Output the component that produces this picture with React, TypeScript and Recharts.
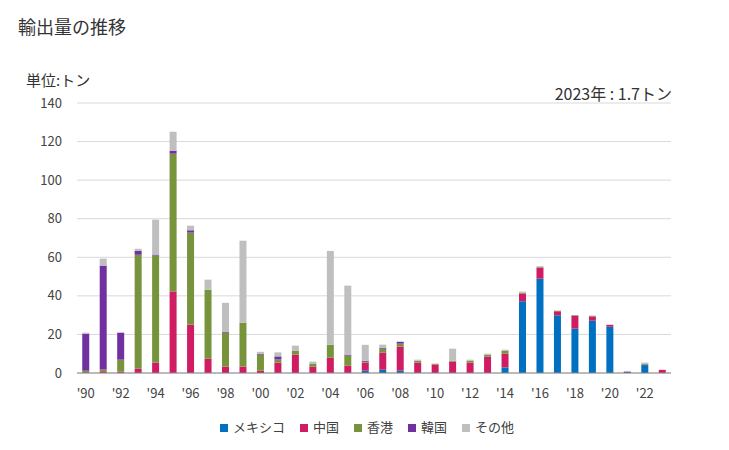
import { Bar, BarChart, CartesianGrid, Legend, XAxis, YAxis } from "recharts";

const years = [
  "1990", "1991", "1992", "1993", "1994", "1995", "1996", "1997", "1998", "1999",
  "2000", "2001", "2002", "2003", "2004", "2005", "2006", "2007", "2008", "2009",
  "2010", "2011", "2012", "2013", "2014", "2015", "2016", "2017", "2018", "2019",
  "2020", "2021", "2022", "2023",
];

const mexico = [
  0, 0, 0, 0, 0, 0, 0, 0, 0, 0,
  0, 0, 0, 0, 0, 0, 1.2, 1.7, 1.2, 0,
  0, 0, 0, 0, 2.9, 37.2, 48.9, 29.9, 23.0, 27.1,
  24.0, 0, 4.1, 0,
];
const china = [
  0, 0.9, 0.7, 2.2, 5.4, 42.3, 25.1, 7.4, 3.3, 3.3,
  1.2, 5.4, 9.5, 3.3, 7.9, 3.8, 4.1, 8.8, 12.4, 5.4,
  4.3, 5.9, 5.4, 8.5, 7.1, 4.0, 5.7, 2.1, 6.7, 2.1,
  1.0, 0, 0.3, 1.6,
];
const hongkong = [
  1.2, 0.9, 6.2, 59.1, 55.5, 71.4, 47.7, 35.8, 17.6, 22.8,
  8.3, 1.6, 2.1, 1.6, 6.7, 5.2, 0.5, 2.1, 1.6, 1.0,
  0.5, 0.5, 1.0, 1.0, 1.6, 0.5, 0.3, 0.3, 0.3, 0.5,
  0, 0, 0.5, 0,
];
const korea = [
  19.2, 53.9, 14.0, 2.1, 0.5, 1.6, 1.2, 0, 0.5, 0,
  0.5, 1.6, 0, 0, 0, 0.5, 0.5, 0.5, 1.0, 0,
  0, 0, 0, 0, 0, 0, 0, 0, 0, 0,
  0, 0.7, 0, 0,
];
const others = [
  0.5, 3.6, 0, 1.0, 18.1, 9.8, 2.4, 5.2, 15.0, 42.5,
  1.0, 2.1, 2.6, 1.0, 48.7, 35.8, 8.3, 1.6, 0, 0.5,
  0, 6.2, 0.5, 0.5, 0.5, 0.5, 0.5, 0, 0, 0,
  0, 0.4, 0.5, 0.1,
];

const yTicks = [0, 20, 40, 60, 80, 100, 120, 140];

const series = [
  { key: "mexico", name: "メキシコ", color: "#0070c0" },
  { key: "china", name: "中国", color: "#d01c62" },
  { key: "hongkong", name: "香港", color: "#77933c" },
  { key: "korea", name: "韓国", color: "#7030a0" },
  { key: "others", name: "その他", color: "#bfbfbf" },
];

const data = years.map((year, i) => ({
  year,
  mexico: mexico[i],
  china: china[i],
  hongkong: hongkong[i],
  korea: korea[i],
  others: others[i],
}));

const font = '"Noto Sans CJK JP", "Noto Sans", sans-serif';

function LegendBox() {
  return (
    <div style={{ display: "flex", justifyContent: "center", gap: 15, paddingTop: 15, paddingLeft: 63 }}>
      {series.map((s) => (
        <div key={s.key} style={{ display: "flex", alignItems: "center", fontSize: 13, color: "#404040", lineHeight: "17px" }}>
          <span style={{ width: 8, height: 8, background: s.color, marginRight: 5, marginTop: 3 }} />
          {s.name}
        </div>
      ))}
    </div>
  );
}

export default function App() {
  return (
    <div
      style={{
        position: "absolute",
        left: 0,
        top: 0,
        width: 729,
        height: 450,
        background: "#fff",
        fontFamily: font,
        color: "#333",
      }}
    >
      <div style={{ position: "absolute", left: 18, top: 13, fontSize: 18 }}>輸出量の推移</div>
      <div style={{ position: "absolute", left: 26, top: 69, fontSize: 15 }}>単位:トン</div>
      <div style={{ position: "absolute", right: 57, top: 81, fontSize: 16 }}>2023年 : 1.7トン</div>
      <BarChart
        width={729}
        height={450}
        data={data}
        barCategoryGap="30%"
        margin={{ top: 103, right: 58, left: 0, bottom: 0 }}
      >
        <CartesianGrid stroke="#d9d9d9" vertical={false} />
        <XAxis
          dataKey="year"
          interval={0}
          tickLine={false}
          axisLine={{ stroke: "#898989" }}
          tick={{ fontSize: 13, fill: "#444", fontFamily: font }}
          tickMargin={10}
          tickFormatter={(y: string) => (Number(y) % 2 === 0 ? "'" + y.slice(2) : "")}
          height={30}
        />
        <YAxis
          width={77}
          domain={[0, 140]}
          ticks={yTicks}
          tickLine={false}
          axisLine={false}
          tickMargin={9}
          tick={{ fontSize: 13, fill: "#444", fontFamily: font }}
        />
        <Legend verticalAlign="bottom" height={47} content={() => <LegendBox />} />
        {series.map((s) => (
          <Bar key={s.key} dataKey={s.key} name={s.name} stackId="a" fill={s.color} isAnimationActive={false} />
        ))}
      </BarChart>
    </div>
  );
}
